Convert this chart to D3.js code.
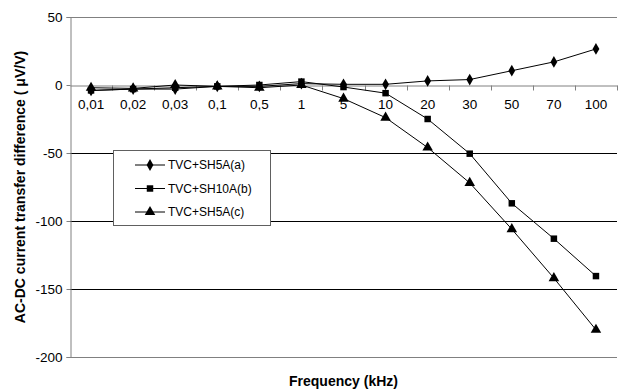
<!DOCTYPE html>
<html>
<head>
<meta charset="utf-8">
<script src="https://cdn.jsdelivr.net/npm/d3@7"></script>
<style>
  body { margin: 0; background: #fff; }
  svg text { font-family: Arial, "Liberation Sans", sans-serif; fill: #000; }
</style>
</head>
<body>
<div id="chart"></div>
<script>
// data
var categories = ["0,01", "0,02", "0,03", "0,1", "0,5", "1", "5", "10", "20", "30", "50", "70", "100"];
var seriesA = [-4, -3, -3, -1, -1, 1, 0.5, 0.5, 3, 4, 10.5, 17, 26.5];
var seriesB = [-4, -3, -2, -1, 0, 2.5, -1.5, -6, -25, -50.5, -87, -113, -140.5];
var seriesC = [-2, -2.5, 0, -1, -2, 0, -10, -24, -46, -72, -106, -142, -180];
var yTicks = [50, 0, -50, -100, -150, -200];
var names = ["TVC+SH5A(a)", "TVC+SH10A(b)", "TVC+SH5A(c)"];

var width = 625, height = 390;
var margin = {top: 17, right: 8, bottom: 33, left: 70};

var svg = d3.select("#chart")
  .append("svg")
    .attr("width", width)
    .attr("height", height);

var x = d3.scaleBand()
    .domain(categories)
    .range([margin.left, width - margin.right])
    .padding(0);

var y = d3.scaleLinear()
    .domain([-200, 50])
    .range([height - margin.bottom, margin.top]);

// gridlines (inner ones black, top/bottom border gray)
svg.append("g")
  .selectAll("line")
  .data(yTicks)
  .enter()
  .append("line")
    .attr("x1", margin.left)
    .attr("x2", width - margin.right)
    .attr("y1", function(d) { return Math.round(y(d)) + 0.5; })
    .attr("y2", function(d) { return Math.round(y(d)) + 0.5; })
    .attr("stroke", function(d) { return (d == 50 || d == -200) ? "#808080" : (d == 0 ? "none" : "#000"); })
    .attr("stroke-width", 1);

// y axis
var yAxis = svg.append("g")
    .attr("transform", "translate(" + (margin.left + 0.5) + ",0)")
    .call(d3.axisLeft(y).tickValues(yTicks).tickSize(4).tickPadding(4).tickFormat(d3.format("d")));
yAxis.select(".domain").attr("stroke", "#808080");
yAxis.selectAll(".tick line").attr("stroke", "#808080");
yAxis.selectAll(".tick text")
    .style("font-size", "13.5px")
    .text(function(d) { return d < 0 ? "-" + Math.abs(d) : d; });

// x axis sits on zero
var xAxis = svg.append("g")
    .attr("transform", "translate(0," + (Math.round(y(0)) + 0.5) + ")")
    .call(d3.axisBottom(x).tickSize(0).tickPadding(14));
xAxis.select(".domain").attr("stroke", "#808080");
xAxis.selectAll(".tick text").style("font-size", "13.5px");

// tick marks on band boundaries
var bounds = categories.map(function(c) { return x(c); }).concat([x.range()[1]]);
xAxis.append("g")
  .selectAll("line")
  .data(bounds.slice(1))
  .enter()
  .append("line")
    .attr("x1", function(d) { return Math.round(d) + 0.5; })
    .attr("x2", function(d) { return Math.round(d) + 0.5; })
    .attr("y1", 0)
    .attr("y2", 5)
    .attr("stroke", "#808080");

// lines
var series = [seriesA, seriesB, seriesC];
var shapes = [d3.symbolDiamond, d3.symbolSquare, d3.symbolTriangle];
var sizes = [40, 42, 48];

var line = d3.line()
    .x(function(d, i) { return x(categories[i]) + x.bandwidth() / 2; })
    .y(function(d) { return y(d); });

series.forEach(function(s, k) {
  svg.append("path")
      .datum(s)
      .attr("d", line)
      .attr("fill", "none")
      .attr("stroke", "#000")
      .attr("stroke-width", 1);
  svg.append("g")
    .selectAll("path")
    .data(s)
    .enter()
    .append("path")
      .attr("d", d3.symbol().type(shapes[k]).size(sizes[k]))
      .attr("transform", function(d, i) {
        return "translate(" + (x(categories[i]) + x.bandwidth() / 2) + "," + y(d) + ")";
      })
      .attr("fill", "#000");
});

// legend
var legend = svg.append("g").attr("transform", "translate(113,150)");
legend.append("rect")
    .attr("x", 0.5).attr("y", 0.5)
    .attr("width", 157).attr("height", 75)
    .attr("fill", "#fff")
    .attr("stroke", "#606060");
names.forEach(function(n, k) {
  var ly = 15 + k * 23.5;
  legend.append("line")
      .attr("x1", 22).attr("x2", 52)
      .attr("y1", ly).attr("y2", ly)
      .attr("stroke", "#000");
  legend.append("path")
      .attr("d", d3.symbol().type(shapes[k]).size(sizes[k]))
      .attr("transform", "translate(37," + ly + ")")
      .attr("fill", "#000");
  legend.append("text")
      .attr("x", 55).attr("y", ly + 4)
      .style("font-size", "12px")
      .text(n);
});

// axis titles
svg.append("text")
    .attr("x", (margin.left + width - margin.right) / 2)
    .attr("y", 386)
    .attr("text-anchor", "middle")
    .style("font-size", "14px")
    .style("font-weight", "bold")
    .text("Frequency (kHz)");

svg.append("text")
    .attr("transform", "translate(25," + (margin.top + height - margin.bottom) / 2 + ") rotate(-90)")
    .attr("text-anchor", "middle")
    .style("font-size", "14px")
    .style("font-weight", "bold")
    .text("AC-DC current transfer difference ( \u03bcV/V)");
</script>
</body>
</html>
